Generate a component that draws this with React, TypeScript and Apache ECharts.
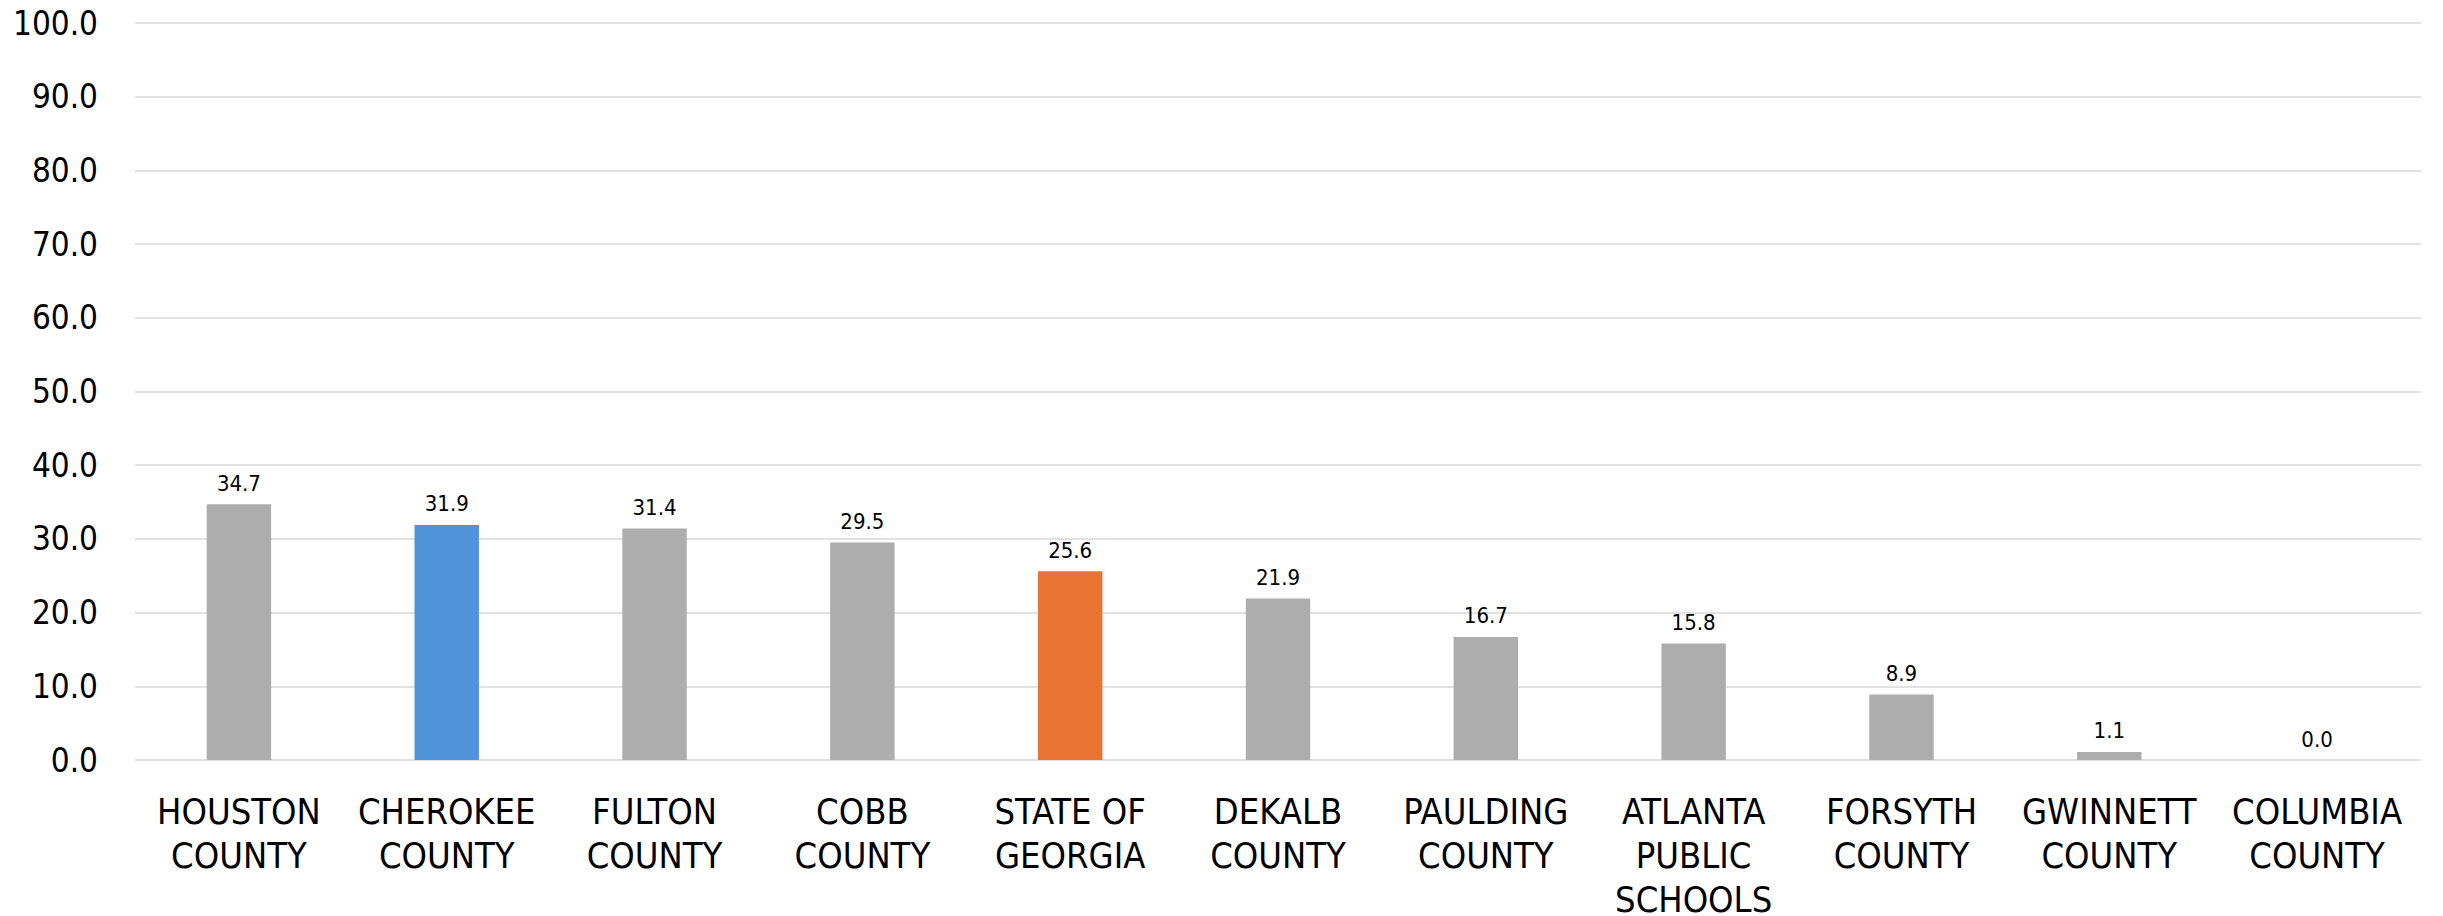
import React, { useEffect, useRef } from "react";
import * as echarts from "echarts";

const categories = [
  "HOUSTON\nCOUNTY",
  "CHEROKEE\nCOUNTY",
  "FULTON\nCOUNTY",
  "COBB\nCOUNTY",
  "STATE OF\nGEORGIA",
  "DEKALB\nCOUNTY",
  "PAULDING\nCOUNTY",
  "ATLANTA\nPUBLIC\nSCHOOLS",
  "FORSYTH\nCOUNTY",
  "GWINNETT\nCOUNTY",
  "COLUMBIA\nCOUNTY",
];
const values = [34.7, 31.9, 31.4, 29.5, 25.6, 21.9, 16.7, 15.8, 8.9, 1.1, 0.0];
const barColors = [
  "#ADADAD",
  "#4F93D8",
  "#ADADAD",
  "#ADADAD",
  "#E87333",
  "#ADADAD",
  "#ADADAD",
  "#ADADAD",
  "#ADADAD",
  "#ADADAD",
  "#ADADAD",
];

const FONT = "'Liberation Sans Narrow', 'DejaVu Sans Condensed', Roboto, sans-serif";

export default function App() {
  const ref = useRef<HTMLDivElement>(null);
  useEffect(() => {
    if (!ref.current) return;
    const chart = echarts.init(ref.current, undefined, { renderer: "svg" });
    chart.setOption({
      animation: false,
      grid: {
        left: 135,
        right: 22,
        top: 23,
        bottom: 156,
        containLabel: false,
        outerBoundsMode: "none",
      },
      xAxis: {
        type: "category",
        data: categories,
        axisLine: { show: false },
        axisTick: { show: false },
        axisLabel: {
          interval: 0,
          margin: 29,
          color: "#000000",
          fontFamily: FONT,
          fontSize: 36,
          lineHeight: 44,
        },
      },
      yAxis: {
        type: "value",
        min: 0,
        max: 100,
        interval: 10,
        axisLine: { show: false },
        axisTick: { show: false },
        splitLine: { lineStyle: { color: "#D9D9D9", width: 1.5 } },
        axisLabel: {
          margin: 37,
          color: "#000000",
          fontFamily: FONT,
          fontSize: 33,
          formatter: (v: number) => v.toFixed(1),
        },
      },
      series: [
        {
          type: "bar",
          barWidth: "31%",
          data: values.map((v, i) => ({ value: v, itemStyle: { color: barColors[i] } })),
          label: {
            show: true,
            position: "top",
            distance: 10,
            color: "#000000",
            fontFamily: FONT,
            fontSize: 22,
            formatter: (p: any) => Number(p.value).toFixed(1),
          },
        },
      ],
    });
    return () => chart.dispose();
  }, []);
  return (
    <div
      ref={ref}
      style={{ position: "absolute", left: 0, top: 0, width: 2443, height: 916, background: "#ffffff" }}
    />
  );
}
